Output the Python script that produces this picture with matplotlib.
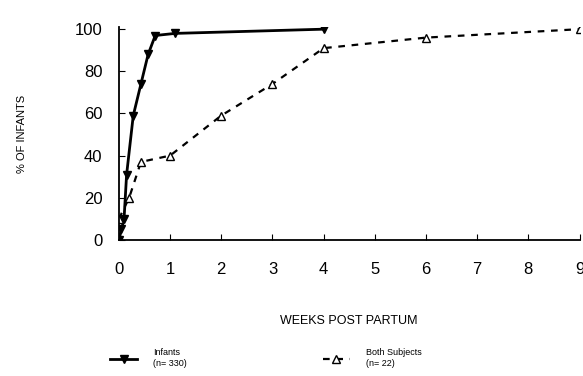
import matplotlib
matplotlib.use("Agg")
import matplotlib.pyplot as plt

# Data
weeks_a = [0.0, 0.05, 0.1, 0.15, 0.28, 0.43, 0.57, 0.71, 1.1, 4.0]
pct_a = [0, 5, 10, 31, 59, 74, 88, 97, 98, 100]
label_a = "Infants\n(n= 330)"

weeks_b = [0.0, 0.2, 0.43, 1.0, 2.0, 3.0, 4.0, 6.0, 9.0]
pct_b = [10, 20, 37, 40, 59, 74, 91, 96, 100]
label_b = "Both Subjects\n(n= 22)"

xticks = [0, 1, 2, 3, 4, 5, 6, 7, 8, 9]
yticks = [0, 20, 40, 60, 80, 100]

plt.rcParams['font.family'] = ['Liberation Sans', 'DejaVu Sans']

fig = plt.figure(figsize=(5.83, 3.76), dpi=100)
ax = fig.add_axes([0.204, 0.362, 0.790, 0.566])

ax.plot(weeks_a, pct_a, color='black', linestyle='-', linewidth=2,
        marker='v', markersize=6, markerfacecolor='black', label=label_a)
ax.plot(weeks_b, pct_b, color='black', linestyle=(0, (3, 3)), linewidth=1.6,
        marker='^', markersize=6, markerfacecolor='white', label=label_b)

ax.set_xlim(0, 9)
ax.set_ylim(0, 101)
ax.set_xticks(xticks)
ax.set_yticks(yticks)
ax.tick_params(direction='in', labelsize=12, length=4)
ax.tick_params(axis='x', pad=16)
ax.tick_params(axis='y', pad=12)
for s in ['top', 'right']:
    ax.spines[s].set_visible(False)
ax.spines['left'].set_linewidth(1.3)
ax.spines['bottom'].set_linewidth(1.3)

ax.set_ylabel("% OF INFANTS", fontsize=8, labelpad=34)
ax.set_xlabel("WEEKS POST PARTUM", fontsize=9, labelpad=27)

fig.legend(loc='lower left', bbox_to_anchor=(0.175, 0.0), ncol=2, frameon=False,
           fontsize=6.5, handlelength=3, columnspacing=15, handletextpad=1.8)

fig.savefig("out.png", dpi=100)
